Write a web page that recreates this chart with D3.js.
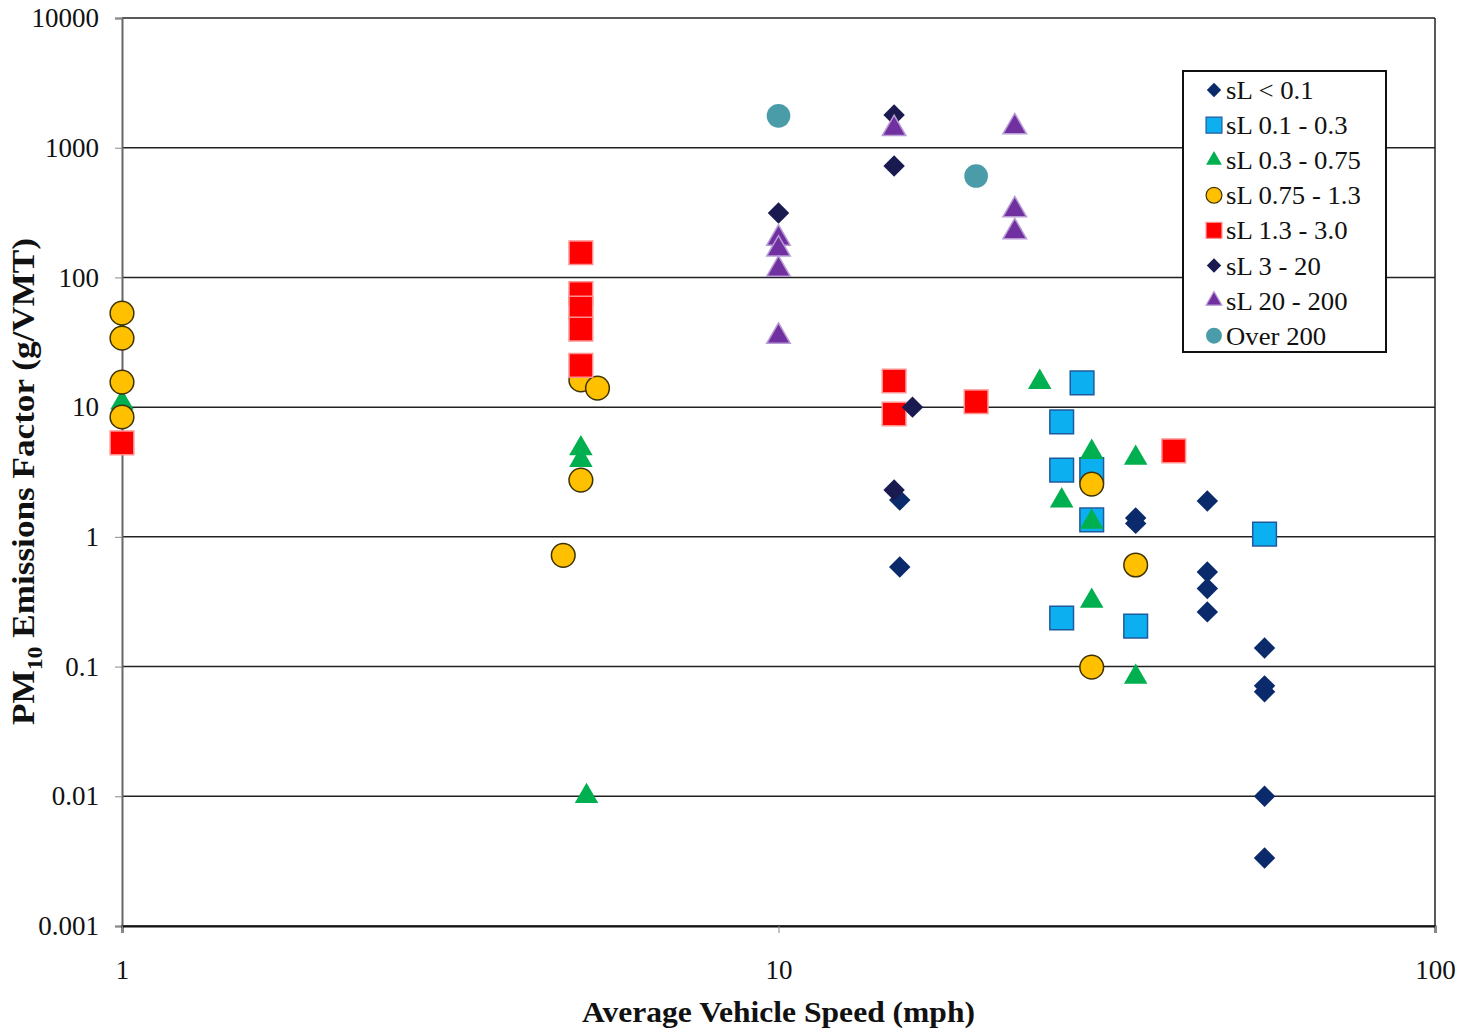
<!DOCTYPE html>
<html>
<head>
<meta charset="utf-8">
<script src="https://cdn.jsdelivr.net/npm/d3@7"></script>
<style>
  body { margin: 0; background: #fff; }
  svg text { font-family: "Liberation Serif", "Times New Roman", serif; }
</style>
</head>
<body>
<div id="chart"></div>
<script>
// Data: [speed mph, PM10 g/VMT]
var sLUnder01 = [[15.3, 1.92], [15.3, 0.585], [35, 1.4], [35, 1.27], [45, 1.89], [45, 0.536], [45, 0.40], [45, 0.264],
                 [55, 0.139], [55, 0.071], [55, 0.064], [55, 0.01], [55, 0.00334]];
var sL01to03 = [[27, 7.7], [27, 3.27], [27, 0.237], [29, 15.4], [30, 3.3], [30, 1.35], [35, 0.205], [55, 1.05]];
var sL03to075 = [[1, 36], [1, 10.8], [5, 4.8], [5, 3.9], [5.1, 0.01], [25, 15.6], [27, 1.9], [30, 4.5], [30, 1.3],
                 [30, 0.32], [35, 4.05], [35, 0.083]];
var sL075to13 = [[1, 53], [1, 34], [1, 15.6], [1, 8.4], [5, 16.2], [5.3, 14], [5, 2.74], [4.7, 0.72], [30, 2.55],
                 [30, 0.099], [35, 0.607]];
var sL13to30 = [[1, 5.3], [5, 155], [5, 75], [5, 58], [5, 40], [5, 21], [15, 15.9], [15, 8.85], [20, 11], [40, 4.6]];
var sL3to20 = [[10, 314], [15, 1790], [15, 723], [16, 10], [15, 2.3]];
var sL20to200 = [[10, 200], [10, 165], [10, 115], [10, 35], [15, 1400], [22.9, 1445], [22.9, 331], [22.9, 224]];
var over200 = [[10, 1760], [20, 605]];

var seriesNames = ["sL < 0.1", "sL 0.1 - 0.3", "sL 0.3 - 0.75", "sL 0.75 - 1.3", "sL 1.3 - 3.0", "sL 3 - 20", "sL 20 - 200", "Over 200"];
var seriesData = [sLUnder01, sL01to03, sL03to075, sL075to13, sL13to30, sL3to20, sL20to200, over200];

var xTicks = [1, 10, 100];
var yTicks = [0.001, 0.01, 0.1, 1, 10, 100, 1000, 10000];
var yTickLabels = ["0.001", "0.01", "0.1", "1", "10", "100", "1000", "10000"];

// marker style per series (diamonds are squares turned 45 degrees)
var styles = [
  { shape: d3.symbolSquare, rot: 45, size: 230, fill: "#0b2a6c", stroke: "none" },
  { shape: d3.symbolSquare, rot: 0, size: 560, fill: "#0cb0f0", stroke: "#1f5a9e" },
  { shape: d3.symbolTriangle, rot: 0, size: 240, fill: "#00b050", stroke: "none" },
  { shape: d3.symbolCircle, rot: 0, size: 440, fill: "#ffc000", stroke: "#3d3200" },
  { shape: d3.symbolSquare, rot: 0, size: 560, fill: "#ff0000", stroke: "#ff9090" },
  { shape: d3.symbolSquare, rot: 45, size: 230, fill: "#1b1a50", stroke: "none" },
  { shape: d3.symbolTriangle, rot: 0, size: 240, fill: "#7030a0", stroke: "#b89ad6" },
  { shape: d3.symbolCircle, rot: 0, size: 440, fill: "#4a9ca8", stroke: "none" }
];

var margin = { top: 18, right: 24, bottom: 107, left: 122 },
  width = 1459 - margin.left - margin.right,
  height = 1033 - margin.top - margin.bottom;

var svg = d3.select("#chart")
  .append("svg")
  .attr("width", 1459)
  .attr("height", 1033)
  .append("g")
  .attr("transform", "translate(" + margin.left + "," + margin.top + ")");

var x = d3.scaleLog().domain([1, 100]).range([0, width]);
var y = d3.scaleLog().domain([0.001, 10000]).range([height, 0]);

// gridlines
svg.append("g")
  .selectAll("line")
  .data(yTicks)
  .join("line")
  .attr("x1", 0)
  .attr("x2", width)
  .attr("y1", function (d) { return y(d); })
  .attr("y2", function (d) { return y(d); })
  .attr("stroke", "#222")
  .attr("stroke-width", 1.5);

// right border
svg.append("line")
  .attr("x1", width).attr("x2", width)
  .attr("y1", 0).attr("y2", height)
  .attr("stroke", "#222").attr("stroke-width", 1.5);

// Y axis
var yAxis = svg.append("g")
  .call(d3.axisLeft(y).tickValues(yTicks).tickSize(7).tickPadding(16)
    .tickFormat(function (d, i) { return yTickLabels[i]; }));
yAxis.select(".domain").attr("stroke", "#666").attr("stroke-width", 2);
yAxis.selectAll(".tick line").attr("stroke", "#888");
yAxis.selectAll("text").style("font-size", "27px").style("fill", "#111");

// X axis
var xAxis = svg.append("g")
  .attr("transform", "translate(0," + height + ")")
  .call(d3.axisBottom(x).tickValues(xTicks).tickSize(7).tickPadding(27)
    .tickFormat(d3.format("d")));
xAxis.select(".domain").attr("stroke", "#111").attr("stroke-width", 2);
xAxis.selectAll(".tick line").attr("stroke", "#888");
xAxis.selectAll("text").style("font-size", "27px").style("fill", "#111");

function markerPath(st, scale) {
  return d3.symbol().type(st.shape).size(st.size * scale)();
}

// Points, drawn in legend order so later series sit on top
seriesData.forEach(function (data, i) {
  var st = styles[i];
  svg.append("g")
    .selectAll("path")
    .data(data)
    .join("path")
    .attr("transform", function (d) {
      return "translate(" + x(d[0]) + "," + y(d[1]) + ") rotate(" + st.rot + ")";
    })
    .attr("d", markerPath(st, 1))
    .attr("fill", st.fill)
    .attr("stroke", st.stroke)
    .attr("stroke-width", st.stroke === "none" ? 0 : 1.5);
});

// Axis titles
svg.append("text")
  .attr("x", 582 - margin.left)
  .attr("y", height + 96)
  .attr("textLength", 393)
  .attr("lengthAdjust", "spacingAndGlyphs")
  .style("font-size", "30px")
  .style("font-weight", "bold")
  .style("fill", "#111")
  .text("Average Vehicle Speed (mph)");

var yt = svg.append("text")
  .attr("transform", "translate(" + (-88) + "," + (725 - margin.top) + ") rotate(-90)")
  .attr("textLength", 487)
  .attr("lengthAdjust", "spacingAndGlyphs")
  .style("font-size", "31px")
  .style("font-weight", "bold")
  .style("fill", "#111");
yt.append("tspan").text("PM");
yt.append("tspan").attr("dy", 8).style("font-size", "21px").text("10");
yt.append("tspan").attr("dy", -8).text(" Emissions Factor (g/VMT)");

// Legend
var legend = svg.append("g")
  .attr("transform", "translate(" + (1183 - margin.left) + "," + (71 - margin.top) + ")");
legend.append("rect")
  .attr("width", 203)
  .attr("height", 281)
  .attr("fill", "#fff")
  .attr("stroke", "#111")
  .attr("stroke-width", 2);

var items = legend.selectAll("g.item")
  .data(seriesNames)
  .join("g")
  .attr("class", "item")
  .attr("transform", function (d, i) { return "translate(31," + (19 + i * 35.1) + ")"; });

items.append("path")
  .attr("transform", function (d, i) { return "rotate(" + styles[i].rot + ")"; })
  .attr("d", function (d, i) { return markerPath(styles[i], 0.45); })
  .attr("fill", function (d, i) { return styles[i].fill; })
  .attr("stroke", function (d, i) { return styles[i].stroke; })
  .attr("stroke-width", function (d, i) { return styles[i].stroke === "none" ? 0 : 1.2; });

items.append("text")
  .attr("transform", "translate(12,9) scale(1.07,1)")
  .style("font-size", "25px")
  .style("fill", "#111")
  .text(function (d) { return d; });
</script>
</body>
</html>
